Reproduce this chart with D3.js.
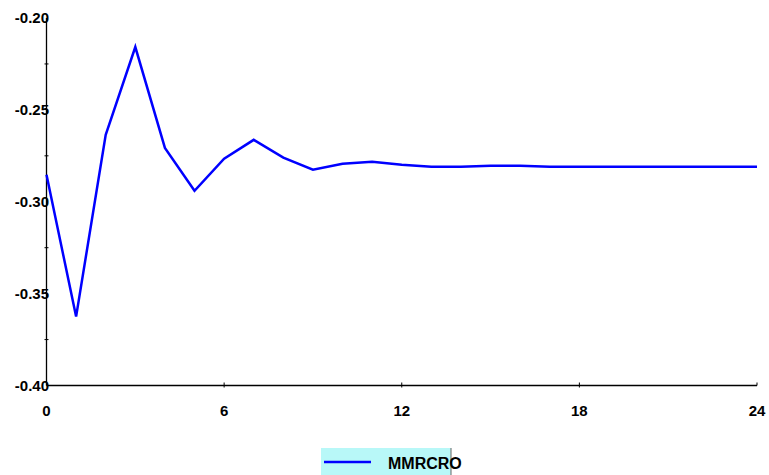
<!DOCTYPE html>
<html>
<head>
<meta charset="utf-8">
<script src="https://cdn.jsdelivr.net/npm/d3@7"></script>
<style>
  body { margin: 0; background: #fff; }
</style>
</head>
<body>
<div id="chart-container"></div>
<script>
// periods and response values
const periods = d3.range(0, 25);
const mmrcro = [-0.2853, -0.3625, -0.2636, -0.2158, -0.2707, -0.2940, -0.2766, -0.2663,
  -0.2760, -0.2826, -0.2793, -0.2783, -0.2799, -0.2810, -0.2810, -0.2804, -0.2804,
  -0.2810, -0.2810, -0.2810, -0.2810, -0.2810, -0.2810, -0.2810, -0.2810];
const xTicks = [0, 6, 12, 18, 24];
const yTicks = [-0.40, -0.35, -0.30, -0.25, -0.20];
const yMinor = [-0.375, -0.325, -0.275, -0.225];
const seriesName = "MMRCRO";

const W = 769, H = 475;
const font = "'Liberation Sans', Arial, Helvetica, sans-serif";
const svg = d3.select("#chart-container").append("svg")
  .attr("width", W).attr("height", H)
  .style("font-family", font)
  .style("font-weight", "700");

// scales
const x = d3.scaleLinear().domain([0, 24]).range([46.5, 757]);
const y = d3.scaleLinear().domain([-0.40, -0.20]).range([385.5, 18]);

// x axis
svg.append("line")
  .attr("x1", x(0)).attr("x2", x(24))
  .attr("y1", y(-0.40)).attr("y2", y(-0.40))
  .attr("stroke", "#000").attr("stroke-width", 1.3);
svg.selectAll(".xt").data(xTicks.slice(1)).enter().append("line")
  .attr("x1", d => x(d)).attr("x2", d => x(d))
  .attr("y1", y(-0.40) - 3).attr("y2", d => d === 24 ? y(-0.40) : y(-0.40) + 2)
  .attr("stroke", "#000").attr("stroke-width", 1);
svg.selectAll(".xl").data(xTicks).enter().append("text")
  .attr("x", d => x(d)).attr("y", 416)
  .attr("text-anchor", "middle")
  .attr("font-size", 15)
  .attr("font-weight", 700)
  .attr("fill", "#000")
  .text(d => d);

// y axis
svg.append("line")
  .attr("x1", x(0)).attr("x2", x(0))
  .attr("y1", y(-0.20)).attr("y2", y(-0.40))
  .attr("stroke", "#000").attr("stroke-width", 1.3);
svg.selectAll(".ym").data(yMinor).enter().append("line")
  .attr("x1", x(0) - 2).attr("x2", x(0) + 2)
  .attr("y1", d => y(d)).attr("y2", d => y(d))
  .attr("stroke", "#000").attr("stroke-width", 1);
svg.selectAll(".yl").data(yTicks).enter().append("text")
  .attr("x", 49).attr("y", d => y(d) + 5)
  .attr("text-anchor", "end")
  .attr("font-size", 15)
  .attr("font-weight", 700)
  .attr("fill", "#000")
  .text(d => d.toFixed(2));

// series line
const line = d3.line()
  .x((d, i) => x(periods[i]))
  .y(d => y(d));
svg.append("path")
  .datum(mmrcro)
  .attr("fill", "none")
  .attr("stroke", "#0000ff")
  .attr("stroke-width", 2.5)
  .attr("d", line);

// legend
const lg = svg.append("g");
lg.append("rect")
  .attr("x", 321).attr("y", 448).attr("width", 130).attr("height", 27)
  .attr("fill", "#b8f8f8");
lg.append("line")
  .attr("x1", 451).attr("x2", 451).attr("y1", 448).attr("y2", 475)
  .attr("stroke", "#666").attr("stroke-width", 1);
lg.append("line")
  .attr("x1", 324).attr("x2", 371).attr("y1", 462).attr("y2", 462)
  .attr("stroke", "#0000ff").attr("stroke-width", 2.5);
lg.append("text")
  .attr("x", 388).attr("y", 469)
  .attr("font-size", 16)
  .attr("font-weight", 700)
  .attr("fill", "#000")
  .text(seriesName);
</script>
</body>
</html>
